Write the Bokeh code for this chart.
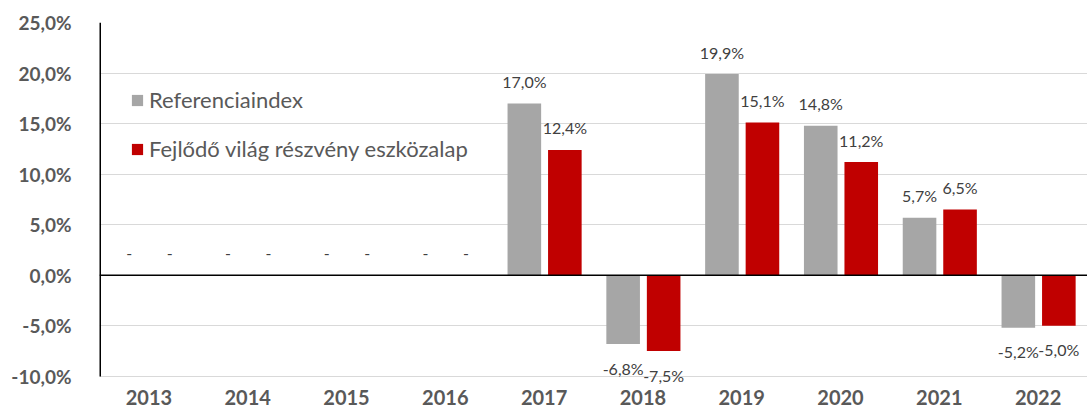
from bokeh.plotting import figure
from bokeh.models import (ColumnDataSource, FactorRange, FixedTicker, CustomJSTickFormatter,
                          Span, Legend, LegendItem, LabelSet)
from bokeh.transform import dodge
from bokeh.core.properties import value
from bokeh.embed import file_html
from bokeh.resources import INLINE

years = ["2013", "2014", "2015", "2016", "2017", "2018", "2019", "2020", "2021", "2022"]
referenciaindex = [None, None, None, None, 17.0, -6.8, 19.9, 14.8, 5.7, -5.2]
eszkozalap = [None, None, None, None, 12.4, -7.5, 15.1, 11.2, 6.5, -5.0]
y_ticks = [-10, -5, 0, 5, 10, 15, 20, 25]

FONT = "Lato"

def fmt(v):
    if v is None:
        return "-"
    return f"{v:.1f}".replace(".", ",") + "%"

def build(vals):
    top = [float("nan") if v is None else v for v in vals]
    ly = [0 if v is None else v for v in vals]
    txt = [fmt(v) for v in vals]
    off = [-24 if (v is not None and v < 0) else 22 for v in vals]
    return ColumnDataSource(dict(x=years, top=top, ly=ly, txt=txt, off=off))

src_ref = build(referenciaindex)
src_fund = build(eszkozalap)

p = figure(x_range=FactorRange(*years), y_range=(-11, 25), width=1087, height=415,
           output_backend="svg", toolbar_location=None,
           min_border_left=99, min_border_right=0, min_border_top=22, min_border_bottom=29)
p.outline_line_color = None
p.background_fill_color = "white"

p.xgrid.grid_line_color = None
p.ygrid.ticker = FixedTicker(ticks=y_ticks)
p.ygrid.grid_line_color = "#d9d9d9"
p.ygrid.grid_line_width = 1

r1 = p.vbar(x=dodge("x", -0.2, range=p.x_range), top="top", bottom=0, width=0.34,
            source=src_ref, fill_color="#a6a6a6", line_color=None)
r2 = p.vbar(x=dodge("x", 0.21, range=p.x_range), top="top", bottom=0, width=0.34,
            source=src_fund, fill_color="#c00000", line_color=None)

# left axis line, from -10% to 25%
p.segment(x0=[0], y0=[y_ticks[0]], x1=[0], y1=[y_ticks[-1]], line_color="black", line_width=3)

for src, dx in ((src_ref, -0.2), (src_fund, 0.21)):
    p.add_layout(LabelSet(x=dodge("x", dx, range=p.x_range), y="ly", text="txt", y_offset="off",
                          source=src, text_align="center", text_baseline="middle",
                          text_font=value(FONT), text_font_size="16px", text_color="#404040"))

p.add_layout(Span(location=0, dimension="width", line_color="black", line_width=1.5))

p.yaxis.ticker = FixedTicker(ticks=y_ticks)
p.yaxis.formatter = CustomJSTickFormatter(code="return tick.toFixed(1).replace('.', ',') + '%';")
p.yaxis.axis_line_color = None
p.yaxis.major_tick_line_color = None
p.yaxis.minor_tick_line_color = None
p.yaxis.major_label_standoff = 22
p.yaxis.major_label_text_font = FONT
p.yaxis.major_label_text_font_style = "bold"
p.yaxis.major_label_text_font_size = "19px"
p.yaxis.major_label_text_color = "#595959"

p.xaxis.axis_line_color = None
p.xaxis.major_tick_line_color = None
p.xaxis.minor_tick_line_color = None
p.xaxis.major_label_standoff = -3
p.xaxis.major_label_text_font = FONT
p.xaxis.major_label_text_font_style = "bold"
p.xaxis.major_label_text_font_size = "20px"
p.xaxis.major_label_text_color = "#595959"

legend = Legend(items=[LegendItem(label="Referenciaindex", renderers=[r1]),
                       LegendItem(label="Fejlődő világ részvény eszközalap", renderers=[r2])],
                location=(31, 224), orientation="vertical",
                glyph_width=14, glyph_height=14, label_height=24, spacing=22,
                label_standoff=5, padding=0, margin=0,
                border_line_color=None, background_fill_alpha=0,
                label_text_font=FONT, label_text_font_size="22px", label_text_color="#595959")
p.add_layout(legend)

open("out.html", "w").write(file_html(p, INLINE))
